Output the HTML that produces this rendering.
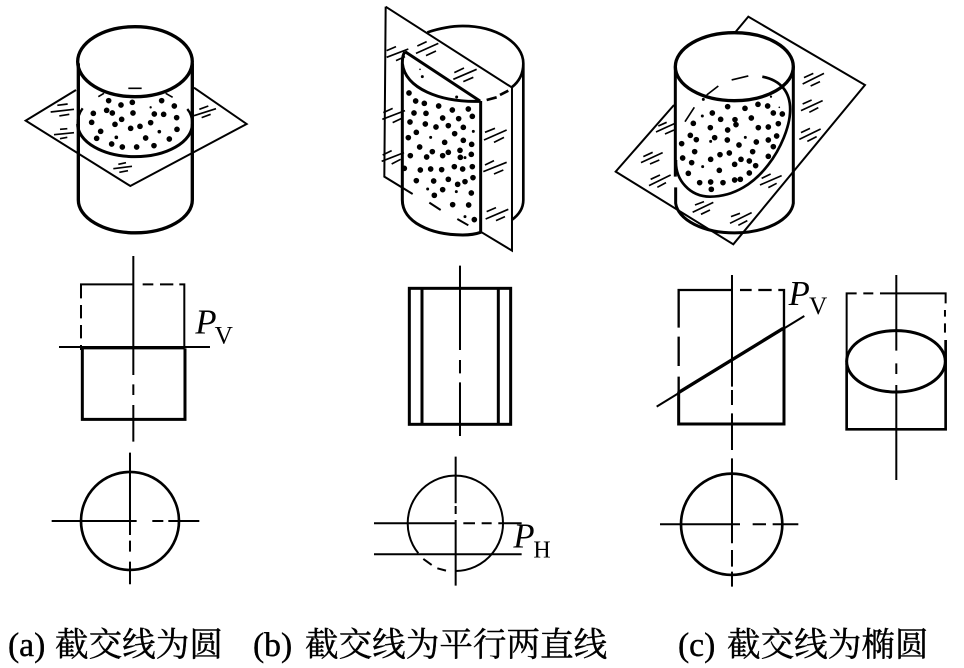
<!DOCTYPE html>
<html><head><meta charset="utf-8"><style>
html,body{margin:0;padding:0;background:#fff;width:964px;height:668px;overflow:hidden}
svg{display:block}
.s{fill:none;stroke:#000;stroke-linecap:butt}
.t{font-family:"Liberation Serif",serif;fill:#000}
.c{font-family:"Liberation Serif","Noto Serif CJK SC",serif;font-size:33.6px;fill:#000;stroke:#000;stroke-width:.4px}
</style></head><body>
<svg xmlns="http://www.w3.org/2000/svg" width="964" height="668" viewBox="0 0 964 668">
<!-- A -->
<g transform="scale(.3333)">
<path class="s" stroke-width="6" d="M228,270L77,362L391,558L740,372L582,263"/>
<path class="s" stroke-width="5" d="M172,316L203,312M152,336L222,328M178,348L208,343M180,388L202,386M162,404L222,398M180,416L202,412M598,328L625,318M582,347L648,326M605,353L632,343M355,493L378,488M340,506L396,499M358,517L384,512M295,290L312,280M497,280L518,292M385,265L425,265"/>
<ellipse class="s" stroke-width="10" cx="405" cy="185" rx="172" ry="105"/>
<path class="s" stroke-width="10" d="M235,190V600A170,98 0 0 0 577,600V190"/>
<path class="s" stroke-width="9" d="M233,372A172,98 0 0 0 577,372"/>
<path class="s" stroke-width="7" d="M248,325Q233,345 233,372M562,327Q577,345 577,372"/>
<g fill="#000" stroke="#000" stroke-width="3">
<circle cx="326" cy="302" r="7"/><circle cx="363" cy="315" r="7"/><circle cx="397" cy="307" r="7"/><circle cx="485" cy="302" r="7"/><circle cx="523" cy="318" r="7"/><circle cx="280" cy="340" r="7"/><circle cx="320" cy="331" r="7"/><circle cx="337" cy="339" r="7"/><circle cx="399" cy="339" r="7"/><circle cx="463" cy="342" r="7"/><circle cx="491" cy="343" r="7"/><circle cx="530" cy="353" r="7"/><circle cx="275" cy="367" r="7"/><circle cx="365" cy="358" r="7"/><circle cx="345" cy="373" r="7"/><circle cx="452" cy="368" r="7"/><circle cx="392" cy="385" r="7"/><circle cx="420" cy="379" r="7"/><circle cx="302" cy="394" r="7"/><circle cx="531" cy="388" r="7"/><circle cx="290" cy="415" r="7"/><circle cx="437" cy="414" r="7"/><circle cx="508" cy="417" r="7"/><circle cx="335" cy="432" r="7"/><circle cx="367" cy="441" r="7"/><circle cx="410" cy="441" r="7"/><circle cx="462" cy="437" r="7"/><circle cx="349" cy="412" r="4"/><circle cx="478" cy="395" r="4"/><circle cx="452" cy="322" r="2"/>
</g>
</g>
<!-- B -->
<g transform="translate(340,0) scale(.3333)">
<path class="s" stroke-width="6" d="M137,20L515,262M137,20L133,530L218,582M268,608L302,630M352,657L385,676M425,697L516,752V262"/>
<path class="s" stroke-width="5" d="M140,152L168,140M140,172L205,147M168,182L195,170M232,138L260,125M228,160L295,130M258,167L288,153M343,218L372,204M340,238L410,208M370,245L400,232M130,338L158,325M127,358L195,332M158,368L185,355M128,465L155,452M125,484L192,458M155,492L182,478M435,397L465,385M432,420L500,390M462,427L492,412M435,495L462,482M430,515L500,487M462,522L490,510M440,635L468,623M437,657L505,628M468,662L495,650"/>
<path class="s" stroke-width="8" d="M262,97Q320,78 368,78C470,78 550,130 550,190V600Q550,635 515,660M550,190Q550,235 515,262M505,272L480,285M470,292L440,300"/>
<path class="s" stroke-width="9" d="M195,155L420,303M195,155Q187,165 187,190V600C187,665 270,705 368,705Q400,705 422,697V303M187,190C195,265 300,308 422,304"/>
<g fill="#000" stroke="#000" stroke-width="3">
<circle cx="207" cy="279" r="7"/><circle cx="227" cy="303" r="7"/><circle cx="253" cy="310" r="7"/><circle cx="296" cy="318" r="7"/><circle cx="337" cy="330" r="7"/><circle cx="385" cy="327" r="7"/><circle cx="222" cy="339" r="7"/><circle cx="258" cy="340" r="7"/><circle cx="397" cy="349" r="7"/><circle cx="308" cy="354" r="7"/><circle cx="356" cy="356" r="7"/><circle cx="210" cy="366" r="7"/><circle cx="256" cy="372" r="7"/><circle cx="288" cy="381" r="7"/><circle cx="325" cy="377" r="7"/><circle cx="370" cy="382" r="7"/><circle cx="229" cy="397" r="7"/><circle cx="344" cy="401" r="7"/><circle cx="205" cy="413" r="7"/><circle cx="370" cy="421" r="7"/><circle cx="314" cy="427" r="7"/><circle cx="395" cy="433" r="7"/><circle cx="239" cy="441" r="7"/><circle cx="360" cy="451" r="7"/><circle cx="277" cy="455" r="7"/><circle cx="325" cy="457" r="7"/><circle cx="211" cy="467" r="7"/><circle cx="260" cy="471" r="7"/><circle cx="308" cy="467" r="7"/><circle cx="361" cy="472" r="7"/><circle cx="394" cy="463" r="7"/><circle cx="193" cy="505" r="7"/><circle cx="241" cy="510" r="7"/><circle cx="272" cy="507" r="7"/><circle cx="305" cy="509" r="7"/><circle cx="343" cy="500" r="7"/><circle cx="368" cy="507" r="7"/><circle cx="397" cy="500" r="7"/><circle cx="229" cy="542" r="7"/><circle cx="281" cy="543" r="7"/><circle cx="325" cy="538" r="7"/><circle cx="353" cy="553" r="7"/><circle cx="375" cy="545" r="7"/><circle cx="399" cy="533" r="7"/><circle cx="308" cy="569" r="7"/><circle cx="283" cy="586" r="7"/><circle cx="394" cy="579" r="7"/><circle cx="338" cy="614" r="7"/><circle cx="386" cy="615" r="7"/><circle cx="403" cy="659" r="7"/>
<circle cx="247" cy="230" r="3"/><circle cx="350" cy="291" r="3"/><circle cx="272" cy="412" r="3"/><circle cx="400" cy="394" r="3"/><circle cx="375" cy="473" r="3"/><circle cx="263" cy="567" r="3"/><circle cx="349" cy="575" r="3"/><circle cx="375" cy="650" r="3"/><circle cx="240" cy="208" r="1"/>
</g>
</g>
<!-- C -->
<g transform="translate(600,0) scale(.3333)">
<path class="s" stroke-width="6" d="M405,98L445,50L795,255L400,733L47,515L222,315"/>
<path class="s" stroke-width="5" d="M612,233L640,220M608,252L672,220M632,258L660,245M608,312L635,300M603,332L668,302M628,337L655,323M603,398L630,385M598,418L662,387M622,424L650,410M175,378L200,367M168,396L225,370M195,402L222,390M130,470L158,457M123,488L188,458M150,492L178,480M152,538L180,525M147,557L212,525M172,562L198,548M285,615L312,605M278,637L340,607M303,643L330,630M393,650L420,640M390,670L455,638M415,676L442,662M485,535L512,522M480,555L545,527M505,563L530,550M395,240L445,228M320,285L355,258M255,365L283,322"/>
<ellipse class="s" stroke-width="10" cx="403" cy="200" rx="177" ry="102"/>
<path class="s" stroke-width="9" d="M226,200V530M227,562V610A177,96 0 0 0 580,610V200"/>
<path class="s" stroke-width="8" d="M487,230C540,240 575,275 570,340C565,420 480,590 330,590C270,590 225,540 228,480"/>
<g fill="#000" stroke="#000" stroke-width="3">
<circle cx="383" cy="320" r="7"/><circle cx="435" cy="325" r="7"/><circle cx="474" cy="313" r="7"/><circle cx="503" cy="318" r="7"/><circle cx="520" cy="339" r="7"/><circle cx="547" cy="342" r="7"/><circle cx="337" cy="339" r="7"/><circle cx="362" cy="358" r="7"/><circle cx="405" cy="359" r="7"/><circle cx="408" cy="374" r="7"/><circle cx="454" cy="354" r="7"/><circle cx="280" cy="370" r="7"/><circle cx="331" cy="383" r="7"/><circle cx="383" cy="390" r="7"/><circle cx="475" cy="383" r="7"/><circle cx="505" cy="381" r="7"/><circle cx="535" cy="371" r="7"/><circle cx="271" cy="406" r="7"/><circle cx="289" cy="419" r="7"/><circle cx="344" cy="413" r="7"/><circle cx="382" cy="420" r="7"/><circle cx="530" cy="408" r="7"/><circle cx="505" cy="420" r="7"/><circle cx="469" cy="426" r="7"/><circle cx="245" cy="431" r="7"/><circle cx="417" cy="435" r="7"/><circle cx="520" cy="440" r="7"/><circle cx="284" cy="455" r="7"/><circle cx="458" cy="455" r="7"/><circle cx="360" cy="464" r="7"/><circle cx="388" cy="459" r="7"/><circle cx="248" cy="474" r="7"/><circle cx="332" cy="478" r="7"/><circle cx="505" cy="469" r="7"/><circle cx="275" cy="488" r="7"/><circle cx="423" cy="478" r="7"/><circle cx="448" cy="483" r="7"/><circle cx="404" cy="493" r="7"/><circle cx="467" cy="497" r="7"/><circle cx="358" cy="511" r="7"/><circle cx="265" cy="520" r="7"/><circle cx="448" cy="519" r="7"/><circle cx="299" cy="548" r="7"/><circle cx="332" cy="546" r="7"/><circle cx="369" cy="548" r="7"/><circle cx="404" cy="540" r="7"/><circle cx="421" cy="538" r="7"/><circle cx="334" cy="568" r="7"/>
<circle cx="310" cy="298" r="3"/><circle cx="513" cy="290" r="2"/><circle cx="307" cy="348" r="3"/><circle cx="538" cy="322" r="1"/><circle cx="332" cy="424" r="3"/><circle cx="436" cy="412" r="3"/><circle cx="308" cy="500" r="3"/>
</g>
</g>
<!-- A views -->
<g transform="translate(40,250) scale(.3333)">
<path class="s" stroke-width="6" d="M123,145V103H280M308,103H340M360,103H400M418,103H433V295M123,165V205M123,225V265M123,285V300M57,291H510M280,18V375M280,403V435M280,465V575"/>
<path class="s" stroke-width="10" d="M123,293H433"/>
<path class="s" stroke-width="9" d="M127,295V508H435V295"/>
<circle class="s" stroke-width="8" cx="270" cy="813" r="147"/>
<path class="s" stroke-width="6" d="M35,813H290M337,813H370M385,813H478M270,608V855M270,872V905M270,935V1003"/>
<text class="t" x="466" y="250" font-size="104" font-style="italic">P</text>
<text class="t" x="524" y="280" font-size="76">V</text>
</g>
<!-- B views -->
<g transform="translate(360,260) scale(.3333)">
<rect class="s" stroke-width="9" x="148" y="85" width="304" height="408"/>
<path class="s" stroke-width="9" d="M186,85V493M415,85V493"/>
<path class="s" stroke-width="6" d="M300,17V270M300,300V340M300,367V528"/>
<path class="s" stroke-width="6" d="M175,880A143,143 0 1 1 287,933M190,897L215,915M232,925L258,932"/>
<path class="s" stroke-width="6" d="M42,790H290M310,790H345M365,790H395M415,790H485M42,883H485M287,590V730M287,738V762M287,780V977"/>
<text class="t" x="460" y="862" font-size="104" font-style="italic">P</text>
<text class="t" x="520" y="892" font-size="72">H</text>
</g>
<!-- C views -->
<g transform="translate(640,260) scale(.3333)">
<path class="s" stroke-width="7" d="M116,203V90H275M300,90H335M355,90H395M415,90H432V205M116,230V318M116,350V400"/>
<path class="s" stroke-width="6" d="M276,45V380M276,390V435M276,460V570M276,595V850M276,870V920M276,935V980"/>
<path class="s" stroke-width="9" d="M116,395V492H432V205"/>
<path class="s" stroke-width="6" d="M50,440L493,168"/>
<path class="s" stroke-width="10" d="M115,398L430,205"/>
<circle class="s" stroke-width="8" cx="275" cy="793" r="152"/>
<path class="s" stroke-width="6" d="M60,793H300M338,793H378M398,793H475"/>
<text class="t" x="446" y="135" font-size="104" font-style="italic">P</text>
<text class="t" x="507" y="162" font-size="76">V</text>
<path class="s" stroke-width="6" d="M620,300V100H650M670,100H700M720,100H917V130M915,150V170M915,190V218M769,45V272M769,310V342M769,375V660"/>
<path class="s" stroke-width="8" d="M620,310V508H917V240"/>
<ellipse class="s" stroke-width="9" cx="768" cy="304" rx="148" ry="92"/>
</g>
<!-- captions -->
<text class="c" x="8" y="656">(a)</text>
<text class="c" x="55" y="656">截交线为圆</text>
<text class="c" x="253" y="656">(b)</text>
<text class="c" x="305" y="656">截交线为平行两直线</text>
<text class="c" x="678" y="656">(c)</text>
<text class="c" x="727" y="656">截交线为椭圆</text>
</svg>
</body></html>
